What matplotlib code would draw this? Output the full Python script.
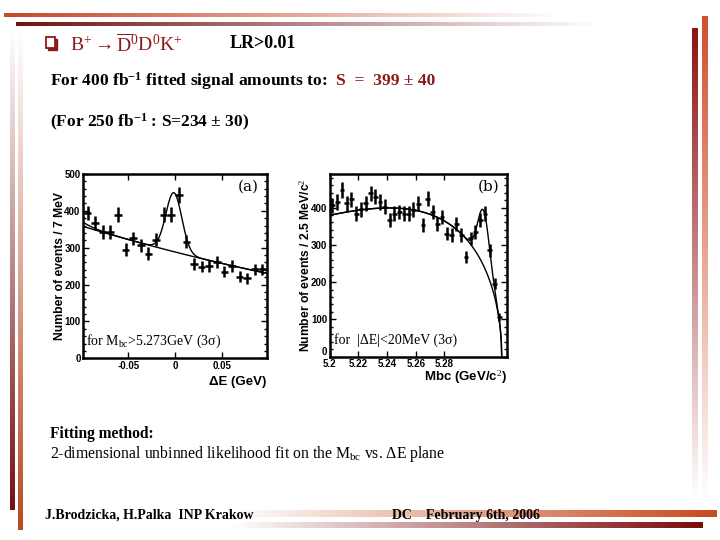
import numpy as np
import matplotlib
matplotlib.use("Agg")
import matplotlib.pyplot as plt
from matplotlib.colors import LinearSegmentedColormap
from matplotlib.patches import Rectangle
from matplotlib.ticker import AutoMinorLocator

plt.rcParams["mathtext.fontset"] = "custom"
plt.rcParams["mathtext.rm"] = "Liberation Serif"
plt.rcParams["mathtext.it"] = "Liberation Serif:italic"
plt.rcParams["mathtext.bf"] = "Liberation Serif:bold"

# --- (a) Delta E projection, 24 bins between -0.08 and 0.08 GeV
de_range = (-0.08, 0.08)
de_counts = [394, 367, 343, 343, 390, 295, 325, 306, 284, 322, 390, 390,
             443, 316, 256, 249, 250, 262, 235, 250, 221, 217, 241, 241]
de_ticks = [-0.041, 0.0, 0.041]
de_ticklabels = ["-0.05", "0", "0.05"]
# fit: quadratic background + gaussian signal + small low-side tail
de_bkg = (288.4, -787.5, 879.0)
de_sig = (160.0, -0.001, 0.007)
de_tail = (11.0, 0.01)

# --- (b) Mbc projection, 36 bins of 2.5 MeV between 5.20 and 5.29
mbc_range = (5.2, 5.29)
mbc_counts = [406, 415, 447, 411, 422, 384, 395, 411, 438, 429, 415, 402,
              366, 384, 388, 384, 384, 394, 410, 352, 424, 388, 357, 375,
              330, 326, 357, 326, 267, 317, 335, 366, 384, 285, 196, 106]
mbc_ticks = [5.2, 5.2147, 5.2299, 5.2450, 5.2599]
mbc_ticklabels = ["5.2", "5.22", "5.24", "5.26", "5.28"]
# fit: ARGUS background + gaussian signal
mbc_argus = (834.3, 5.29, -22.0)
mbc_sig = (148.0, 5.2805, 0.003)

dark_red = "#8B1A1A"

fig = plt.figure(figsize=(7.2, 5.4), dpi=100)

# slide background in pixel coordinates
bg = fig.add_axes([0, 0, 1, 1], zorder=0)
bg.set_xlim(0, 720)
bg.set_ylim(540, 0)
bg.axis("off")


def grad_bar(x0, x1, y0, y1, color, direction):
    cmap = LinearSegmentedColormap.from_list("g", ["white", color])
    ramp = np.linspace(0, 1, 256)
    if direction == "right":
        img = ramp[None, :]
    elif direction == "left":
        img = ramp[::-1][None, :]
    elif direction == "down":
        img = ramp[:, None]
    else:
        img = ramp[::-1][:, None]
    bg.imshow(img, extent=(x0, x1, y1, y0), cmap=cmap, vmin=0, vmax=1,
              aspect="auto", interpolation="bilinear")


grad_bar(4, 560, 13, 17, "#C4482A", "left")
grad_bar(16, 600, 22, 26, "#6E1212", "left")
grad_bar(692, 698, 28, 500, "#8E1414", "up")
grad_bar(702, 708, 16, 500, "#D0502E", "up")
grad_bar(10, 15, 30, 510, "#761010", "down")
grad_bar(18, 23, 30, 530, "#B84A22", "down")
grad_bar(230, 717, 510, 517, "#C84A1E", "right")
grad_bar(230, 703, 522, 528, "#7A0A0A", "right")
bg.set_xlim(0, 720)
bg.set_ylim(540, 0)

# header
bg.add_patch(Rectangle((48, 39), 9, 11, facecolor=dark_red, edgecolor=dark_red))
bg.add_patch(Rectangle((46, 37), 9, 11, facecolor="white", edgecolor=dark_red, lw=1.3))
bg.text(70, 44, r"B$^{+}\rightarrow\overline{\mathrm{D}}^{0}$D$^{0}$K$^{+}$",
        family="Liberation Serif", fontsize=14, color=dark_red, va="center")
bg.text(230, 43, "LR>0.01", family="Liberation Serif", fontsize=13,
        fontweight="bold", va="center")

bg.text(50, 81, r"For 400 fb$^{\mathbf{-1}}$ fitted signal amounts to: ",
        family="Liberation Serif", fontsize=12.6, fontweight="bold", va="center")
bg.text(336, 81, "S  =  399 ± 40", family="Liberation Serif", fontsize=12.6,
        fontweight="bold", color=dark_red, va="center")
bg.text(50, 122, r"(For 250 fb$^{\mathbf{-1}}$ : S=234 ± 30)",
        family="Liberation Serif", fontsize=12.5, fontweight="bold", va="center")

bg.text(50, 434, "Fitting method:", family="Liberation Serif", fontsize=11.2,
        fontweight="bold", va="center")
bg.text(50, 454, r"2-dimensional unbinned likelihood fit on the M$_{\mathrm{bc}}$ vs. ΔE plane",
        family="Liberation Serif", fontsize=11.3, va="center")

bg.text(45, 515, "J.Brodzicka, H.Palka  INP Krakow", family="Liberation Serif",
        fontsize=10, fontweight="bold", va="center")
bg.text(392, 515, "DC    February 6th, 2006", family="Liberation Serif",
        fontsize=10, fontweight="bold", va="center")


def style_axes(ax):
    for s in ax.spines.values():
        s.set_linewidth(1.8)
    ax.tick_params(direction="in", which="both", top=True, right=True,
                   labelsize=7, width=1.0, pad=2)
    ax.tick_params(which="major", length=4)
    ax.tick_params(which="minor", length=2)
    for lab in ax.get_xticklabels() + ax.get_yticklabels():
        lab.set_fontweight("bold")
        lab.set_family("Liberation Sans")


# ---------------- panel (a)
axa = fig.add_axes([0.1157, 0.3365, 0.2547, 0.3413], zorder=2)
de_edges = np.linspace(de_range[0], de_range[1], len(de_counts) + 1)
de_x = 0.5 * (de_edges[:-1] + de_edges[1:])
de_w = 0.5 * (de_edges[1] - de_edges[0])
de_y = np.array(de_counts, dtype=float)
axa.errorbar(de_x, de_y, xerr=de_w, yerr=np.sqrt(de_y), fmt="none",
             ecolor="black", elinewidth=1.8, capsize=0)

xx = np.linspace(de_range[0], de_range[1], 400)
bkg = de_bkg[0] + de_bkg[1] * xx + de_bkg[2] * xx ** 2
tail = de_tail[0] * np.exp(-(xx - de_range[0]) / de_tail[1])
sig = de_sig[0] * np.exp(-0.5 * ((xx - de_sig[1]) / de_sig[2]) ** 2)
axa.plot(xx, bkg, color="black", lw=1.0)
axa.plot(xx, bkg + tail + sig, color="black", lw=1.0)

axa.set_xlim(-0.0805, 0.0805)
axa.set_ylim(0, 500)
axa.set_xticks(de_ticks)
axa.set_xticklabels(de_ticklabels)
axa.set_yticks([0, 100, 200, 300, 400, 500])
axa.yaxis.set_minor_locator(AutoMinorLocator(5))
style_axes(axa)
axa.set_ylabel("Number of events / 7 MeV", family="Liberation Sans",
               fontweight="bold", fontsize=8.7, labelpad=-1)
axa.text(1.0, -0.095, "ΔE (GeV)", transform=axa.transAxes, ha="right", va="top",
         family="Liberation Sans", fontweight="bold", fontsize=9.5)
axa.text(0.955, 0.93, "(a)", transform=axa.transAxes, ha="right", va="center",
         family="DejaVu Serif", fontsize=11)
axa.text(0.015, 0.09, r"for M$_{\mathrm{bc}}$>5.273GeV (3σ)", transform=axa.transAxes,
         ha="left", va="center", family="Liberation Serif", fontsize=10)

# ---------------- panel (b)
axb = fig.add_axes([0.4583, 0.3395, 0.2454, 0.3383], zorder=2)
mbc_edges = np.linspace(mbc_range[0], mbc_range[1], len(mbc_counts) + 1)
mbc_x = 0.5 * (mbc_edges[:-1] + mbc_edges[1:])
mbc_w = 0.5 * (mbc_edges[1] - mbc_edges[0])
mbc_y = np.array(mbc_counts, dtype=float)
axb.errorbar(mbc_x, mbc_y, xerr=mbc_w, yerr=np.sqrt(mbc_y), fmt="none",
             ecolor="black", elinewidth=1.8, capsize=0)

mm = np.linspace(mbc_range[0], mbc_argus[1], 500)
z = np.clip(1 - (mm / mbc_argus[1]) ** 2, 0, None)
argus = mbc_argus[0] * mm * np.sqrt(z) * np.exp(mbc_argus[2] * z)
msig = mbc_sig[0] * np.exp(-0.5 * ((mm - mbc_sig[1]) / mbc_sig[2]) ** 2)
msig = np.where(z > 0, msig, 0)
axb.plot(mm, argus, color="black", lw=1.0)
axb.plot(mm, argus + msig, color="black", lw=1.0)

axb.set_xlim(5.2, 5.2926)
axb.set_ylim(0, 490)
axb.set_xticks(mbc_ticks)
axb.set_xticklabels(mbc_ticklabels)
axb.set_yticks([0, 100, 200, 300, 400])
axb.yaxis.set_minor_locator(AutoMinorLocator(5))
style_axes(axb)
axb.get_yticklabels()[0].set_verticalalignment("bottom")
axb.set_ylabel(r"Number of events / 2.5 MeV/c$^{2}$", family="Liberation Sans",
               fontweight="bold", fontsize=8.7, labelpad=-1)
axb.text(1.0, -0.065, r"Mbc (GeV/c$^{2}$)", transform=axb.transAxes, ha="right",
         va="top", family="Liberation Sans", fontweight="bold", fontsize=9.5)
axb.text(0.96, 0.93, "(b)", transform=axb.transAxes, ha="right", va="center",
         family="DejaVu Serif", fontsize=11)
axb.text(0.02, 0.09, "for  |ΔE|<20MeV (3σ)", transform=axb.transAxes,
         ha="left", va="center", family="Liberation Serif", fontsize=10)

fig.savefig("out.png", dpi=100)
